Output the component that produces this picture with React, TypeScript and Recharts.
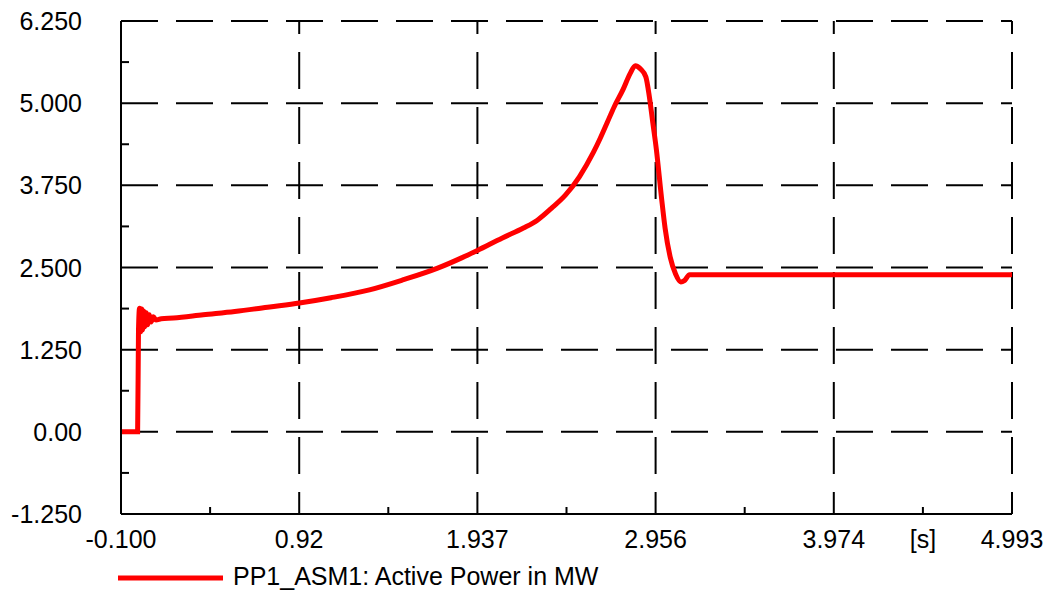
import { LineChart, Line, XAxis, YAxis, CartesianGrid, Legend } from 'recharts';

// time axis [s]
const TIME = [
  -0.1, -0.005, 0.0, 0.006, 0.012, 0.018, 0.024, 0.03, 0.036, 0.044, 0.052, 0.062, 0.072, 0.085, 0.1,
  0.13, 0.2, 0.37, 0.55, 0.75, 0.92, 1.1, 1.32, 1.51, 1.71, 1.85, 1.937, 2.08, 2.2, 2.28, 2.36, 2.44,
  2.52, 2.6, 2.64, 2.68, 2.72, 2.77, 2.81, 2.84, 2.87, 2.9, 2.92, 2.94, 2.96, 2.99, 3.01, 3.04, 3.07,
  3.1, 3.12, 3.15, 4.993,
];

// PP1_ASM1 active power [MW]
const POWER = [
  0, 0, 1.55, 1.88, 1.52, 1.87, 1.55, 1.84, 1.6, 1.81, 1.63, 1.78, 1.67, 1.75, 1.7,
  1.72, 1.73, 1.78, 1.83, 1.9, 1.96, 2.04, 2.16, 2.31, 2.49, 2.65, 2.76, 2.95, 3.1, 3.22, 3.4, 3.6,
  3.88, 4.25, 4.47, 4.71, 4.95, 5.21, 5.45, 5.57, 5.52, 5.4, 5.1, 4.7, 4.3, 3.55, 3.1, 2.65, 2.4,
  2.28, 2.3, 2.39, 2.39,
];

const X_MAJOR = [-0.1, 0.9186, 1.9372, 2.9558, 3.9744, 4.993];
const X_LABELS = ['-0.100', '0.92', '1.937', '2.956', '3.974', '4.993'];
const X_UNIT = '[s]';

const Y_MAJOR = [-1.25, 0, 1.25, 2.5, 3.75, 5, 6.25];
const Y_LABELS = ['-1.250', '0.00', '1.250', '2.500', '3.750', '5.000', '6.250'];

const SERIES_NAME = 'PP1_ASM1: Active Power in MW';

const data = TIME.map((t, i) => ({ t, p: POWER[i] }));

// majors plus the midpoints between them
const withMinor = (major: number[]) => {
  const out: number[] = [];
  major.forEach((v, i) => {
    out.push(v);
    if (i < major.length - 1) out.push((v + major[i + 1]) / 2);
  });
  return out;
};
const X_TICKS = withMinor(X_MAJOR);
const Y_TICKS = withMinor(Y_MAJOR);

const FONT = '"Liberation Sans", Arial, sans-serif';
const DASH = '37 18';

const XTick = ({ x, y, index }: any) => {
  const major = index % 2 === 0;
  let label = major ? X_LABELS[index / 2] : '';
  if (index === X_TICKS.length - 2) label = X_UNIT;
  return (
    <g>
      {!major && <line x1={x} y1={y} x2={x} y2={y - 7} stroke="#000" strokeWidth={2} />}
      {label && (
        <text x={x} y={y + 34} textAnchor="middle" fontSize={25} fontFamily={FONT} fill="#000">
          {label}
        </text>
      )}
    </g>
  );
};

const YTick = ({ x, y, index }: any) => {
  const major = index % 2 === 0;
  return (
    <g>
      {!major && <line x1={x} y1={y} x2={x + 8} y2={y} stroke="#000" strokeWidth={2} />}
      {major && (
        <text x={x - 39} y={y} dy="0.36em" textAnchor="end" fontSize={25} fontFamily={FONT} fill="#000">
          {Y_LABELS[index / 2]}
        </text>
      )}
    </g>
  );
};

const LegendContent = () => (
  <svg width={1044} height={40} style={{ display: 'block' }}>
    <line x1={118} y1={28} x2={223} y2={28} stroke="#ff0000" strokeWidth={5} />
    <text x={233} y={35} fontSize={25} fontFamily={FONT} fill="#000">
      {SERIES_NAME}
    </text>
  </svg>
);

export default function App() {
  return (
    <div style={{ position: 'absolute', left: 0, top: 0, width: 1044, height: 590, background: '#fff' }}>
      <LineChart width={1044} height={590} data={data} margin={{ top: 21, right: 32, left: 0, bottom: 0 }}>
        <CartesianGrid
          stroke="#000"
          strokeWidth={2}
          strokeDasharray={DASH}
          horizontalValues={Y_MAJOR}
          verticalValues={X_MAJOR}
          horizontal={(p: any) => (
            <line key={p.key} x1={p.x1} y1={p.y1} x2={p.x2} y2={p.y2} stroke="#000" strokeWidth={2} strokeDasharray={DASH} />
          )}
          vertical={(p: any) => (
            <line key={p.key} x1={p.x1} y1={p.y1} x2={p.x2} y2={p.y2} stroke="#000" strokeWidth={2} strokeDasharray={DASH} strokeDashoffset={24} />
          )}
        />
        <XAxis
          dataKey="t"
          type="number"
          domain={[-0.1, 4.993]}
          ticks={X_TICKS}
          interval={0}
          allowDataOverflow
          height={36}
          tickSize={0}
          tickMargin={0}
          tickLine={false}
          axisLine={{ stroke: '#000', strokeWidth: 2 }}
          tick={<XTick />}
        />
        <YAxis
          type="number"
          domain={[-1.25, 6.25]}
          ticks={Y_TICKS}
          interval={0}
          allowDataOverflow
          width={121}
          tickSize={0}
          tickMargin={0}
          tickLine={false}
          axisLine={{ stroke: '#000', strokeWidth: 2 }}
          tick={<YTick />}
        />
        <Legend
          verticalAlign="bottom"
          align="left"
          content={<LegendContent />}
          wrapperStyle={{ left: 0, bottom: 0, width: 1044, height: 40 }}
        />
        <Line
          type="monotoneX"
          dataKey="p"
          name={SERIES_NAME}
          stroke="#ff0000"
          strokeWidth={5}
          dot={false}
          activeDot={false}
          isAnimationActive={false}
        />
      </LineChart>
    </div>
  );
}
